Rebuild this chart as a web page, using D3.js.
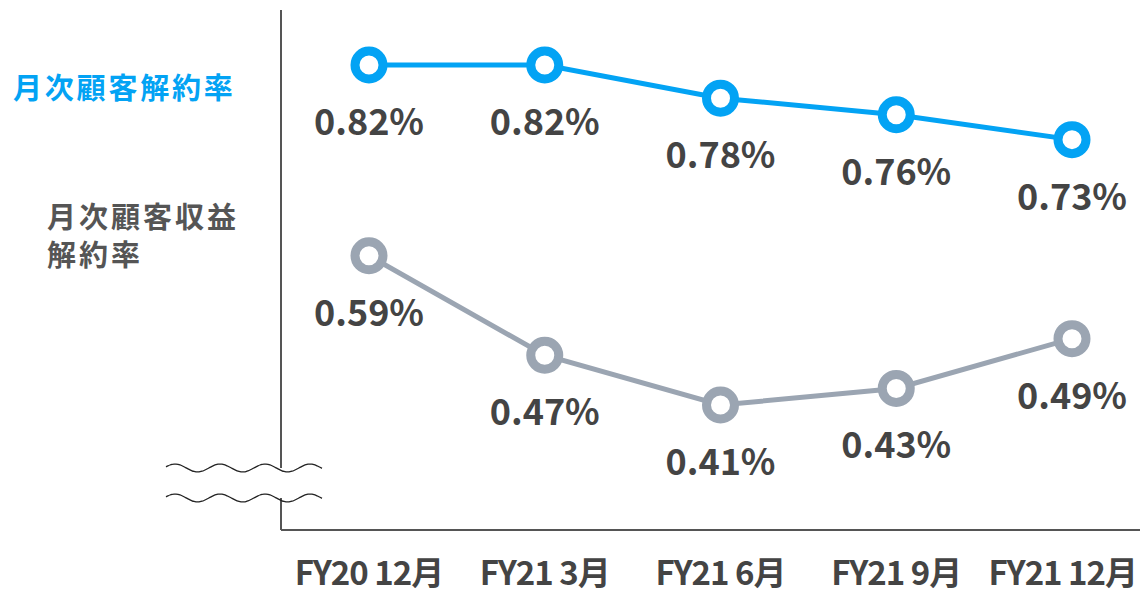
<!DOCTYPE html>
<html>
<head>
<meta charset="utf-8">
<script src="https://cdn.jsdelivr.net/npm/d3@7"></script>
<style>
  body { margin: 0; background: #fff; }
  text { font-family: "Noto Sans CJK JP", "Noto Sans", sans-serif; font-weight: bold; }
</style>
</head>
<body>
<script>
// data
var categories = ["FY20 12月", "FY21 3月", "FY21 6月", "FY21 9月", "FY21 12月"];
var churnRate = [0.82, 0.82, 0.78, 0.76, 0.73];
var revenueChurnRate = [0.59, 0.47, 0.41, 0.43, 0.49];
var seriesNames = ["月次顧客解約率", ["月次顧客収益", "解約率"]];

var width = 1140, height = 596;
var blue = "#03a3f4", gray = "#9ba5b2", dark = "#444";

var svg = d3.select("body").append("svg")
    .attr("width", width)
    .attr("height", height);

var x = d3.scalePoint()
    .domain(categories)
    .range([369, 1072]);

var y = d3.scaleLinear()
    .domain([0.41, 0.82])
    .range([405, 65]);

//axes frame
var axisX = 281, axisBottom = 530;
svg.append("line")
    .attr("x1", axisX).attr("x2", axisX)
    .attr("y1", 10).attr("y2", 468)
    .attr("stroke", "#555").attr("stroke-width", 2);
svg.append("line")
    .attr("x1", axisX).attr("x2", axisX)
    .attr("y1", 498).attr("y2", axisBottom)
    .attr("stroke", "#555").attr("stroke-width", 2);
svg.append("line")
    .attr("x1", axisX).attr("x2", width)
    .attr("y1", axisBottom).attr("y2", axisBottom)
    .attr("stroke", "#555").attr("stroke-width", 2);

//break marks
var wave = d3.line().curve(d3.curveBasis);
[468, 498].forEach(function (cy) {
    var pts = d3.range(166, 324, 2).map(function (px) {
        return [px, cy - 4 * Math.sin((px - 166) / 45 * 2 * Math.PI + 0.3)];
    });
    svg.append("path")
        .attr("d", wave(pts))
        .attr("fill", "none")
        .attr("stroke", "#222")
        .attr("stroke-width", 1.3);
});

//x labels (kept inside the right edge)
svg.append("g").selectAll("text")
    .data(categories)
    .enter().append("text")
    .attr("y", 585)
    .attr("text-anchor", "middle")
    .attr("font-size", 33)
    .attr("letter-spacing", -1)
    .attr("fill", dark)
    .text(function (d) { return d; })
    .attr("x", function (d) {
        var half = this.getComputedTextLength() / 2;
        return Math.min(x(d), width - 3 - half);
    });

function drawSeries(values, color) {
    var line = d3.line()
        .x(function (d, i) { return x(categories[i]); })
        .y(function (d) { return y(d); });
    var g = svg.append("g");
    g.append("path")
        .datum(values)
        .attr("d", line)
        .attr("fill", "none")
        .attr("stroke", color)
        .attr("stroke-width", 5);
    g.selectAll("circle")
        .data(values)
        .enter().append("circle")
        .attr("cx", function (d, i) { return x(categories[i]); })
        .attr("cy", function (d) { return y(d); })
        .attr("r", 14)
        .attr("fill", "#fff")
        .attr("stroke", color)
        .attr("stroke-width", 9);
    g.selectAll("text")
        .data(values)
        .enter().append("text")
        .attr("x", function (d, i) { return x(categories[i]); })
        .attr("y", function (d) { return y(d) + 70; })
        .attr("text-anchor", "middle")
        .attr("font-size", 36)
        .attr("fill", dark)
        .text(function (d) { return d.toFixed(2) + "%"; });
}

drawSeries(churnRate, blue);
drawSeries(revenueChurnRate, gray);

//legend labels
svg.append("text")
    .attr("x", 13).attr("y", 99)
    .attr("font-size", 29)
    .attr("letter-spacing", 2.8)
    .attr("fill", blue)
    .text(seriesNames[0]);

svg.append("text")
    .attr("x", 47).attr("y", 228)
    .attr("font-size", 29)
    .attr("letter-spacing", 3)
    .attr("fill", "#555")
    .selectAll("tspan")
    .data(seriesNames[1])
    .enter().append("tspan")
    .attr("x", 47)
    .attr("dy", function (d, i) { return i === 0 ? 0 : 38; })
    .text(function (d) { return d; });
</script>
</body>
</html>
